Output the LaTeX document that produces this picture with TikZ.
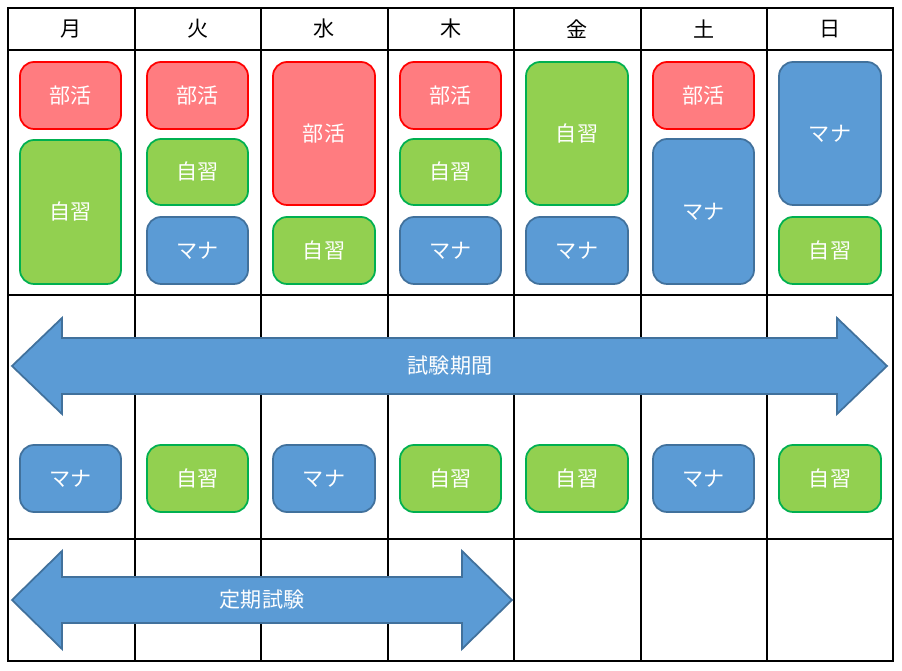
\documentclass[tikz,border=0pt]{standalone}
\usepackage{fontspec}
\setmainfont{Noto Sans CJK JP}
\definecolor{bukatsu}{HTML}{FF7C80}
\definecolor{jishu}{HTML}{92D050}
\definecolor{jishuline}{HTML}{00B050}
\definecolor{mana}{HTML}{5B9BD5}
\definecolor{manaline}{HTML}{41719C}

\begin{document}
\begin{tikzpicture}[x=0.02cm,y=-0.02cm]
	\tikzset{box/.style={rounded corners=8pt,line width=1pt,text=white,font=\fontsize{12}{14}\selectfont},
		bu/.style={box,fill=bukatsu,draw=red},
		ji/.style={box,fill=jishu,draw=jishuline},
		ma/.style={box,fill=mana,draw=manaline},
		arr/.style={fill=mana,draw=manaline,line width=1pt}}
	\useasboundingbox (0,0) rectangle (902,671);

	% grid
	\draw[line width=1pt] (8,8) rectangle (893,661);
	\foreach \y in {50,295,539} \draw[line width=1pt] (8,\y) -- (893,\y);
	\foreach \x in {135,261,388,514,641,767} \draw[line width=1pt] (\x,8) -- (\x,661);

	% days
	\foreach \x/\d in {71.5/月,198/火,324.5/水,451/木,577.5/金,704/土,830/日}
		\node[font=\fontsize{12}{14}\selectfont] at (\x,29) {\d};

	% week boxes
	\draw[bu] (20,62) rectangle node{部活} (121,129);
	\draw[ji] (20,140) rectangle node{自習} (121,284);
	\draw[bu] (147,62) rectangle node{部活} (248,129);
	\draw[ji] (147,139) rectangle node{自習} (248,205);
	\draw[ma] (147,217) rectangle node{マナ} (248,284);
	\draw[bu] (273,62) rectangle node{部活} (375,205);
	\draw[ji] (273,217) rectangle node{自習} (375,284);
	\draw[bu] (400,62) rectangle node{部活} (501,129);
	\draw[ji] (400,139) rectangle node{自習} (501,205);
	\draw[ma] (400,217) rectangle node{マナ} (501,284);
	\draw[ji] (526,62) rectangle node{自習} (628,205);
	\draw[ma] (526,217) rectangle node{マナ} (628,284);
	\draw[bu] (653,62) rectangle node{部活} (754,129);
	\draw[ma] (653,139) rectangle node{マナ} (754,284);
	\draw[ma] (779,62) rectangle node{マナ} (881,205);
	\draw[ji] (779,217) rectangle node{自習} (881,284);

	% exam period
	\draw[arr] (12,366) -- (62,318) -- (62,338) -- (837,338) -- (837,318) -- (887,366)
		-- (837,414) -- (837,394) -- (62,394) -- (62,414) -- cycle;
	\node[text=white,font=\fontsize{12}{14}\selectfont] (kikan) at (450,366) {試験期間};
	\draw[ma] (20,445) rectangle node{マナ} (121,512);
	\draw[ji] (147,445) rectangle node{自習} (248,512);
	\draw[ma] (273,445) rectangle node{マナ} (375,512);
	\draw[ji] (400,445) rectangle node{自習} (501,512);
	\draw[ji] (526,445) rectangle node{自習} (628,512);
	\draw[ma] (653,445) rectangle node{マナ} (754,512);
	\draw[ji] (779,445) rectangle node{自習} (881,512);

	% exam
	\draw[arr] (12,600) -- (62,551) -- (62,577) -- (462,577) -- (462,551) -- (512,600)
		-- (462,649) -- (462,623) -- (62,623) -- (62,649) -- cycle;
	\node[text=white,font=\fontsize{12}{14}\selectfont] (shiken) at (262,600) {定期試験};
\end{tikzpicture}
\end{document}
